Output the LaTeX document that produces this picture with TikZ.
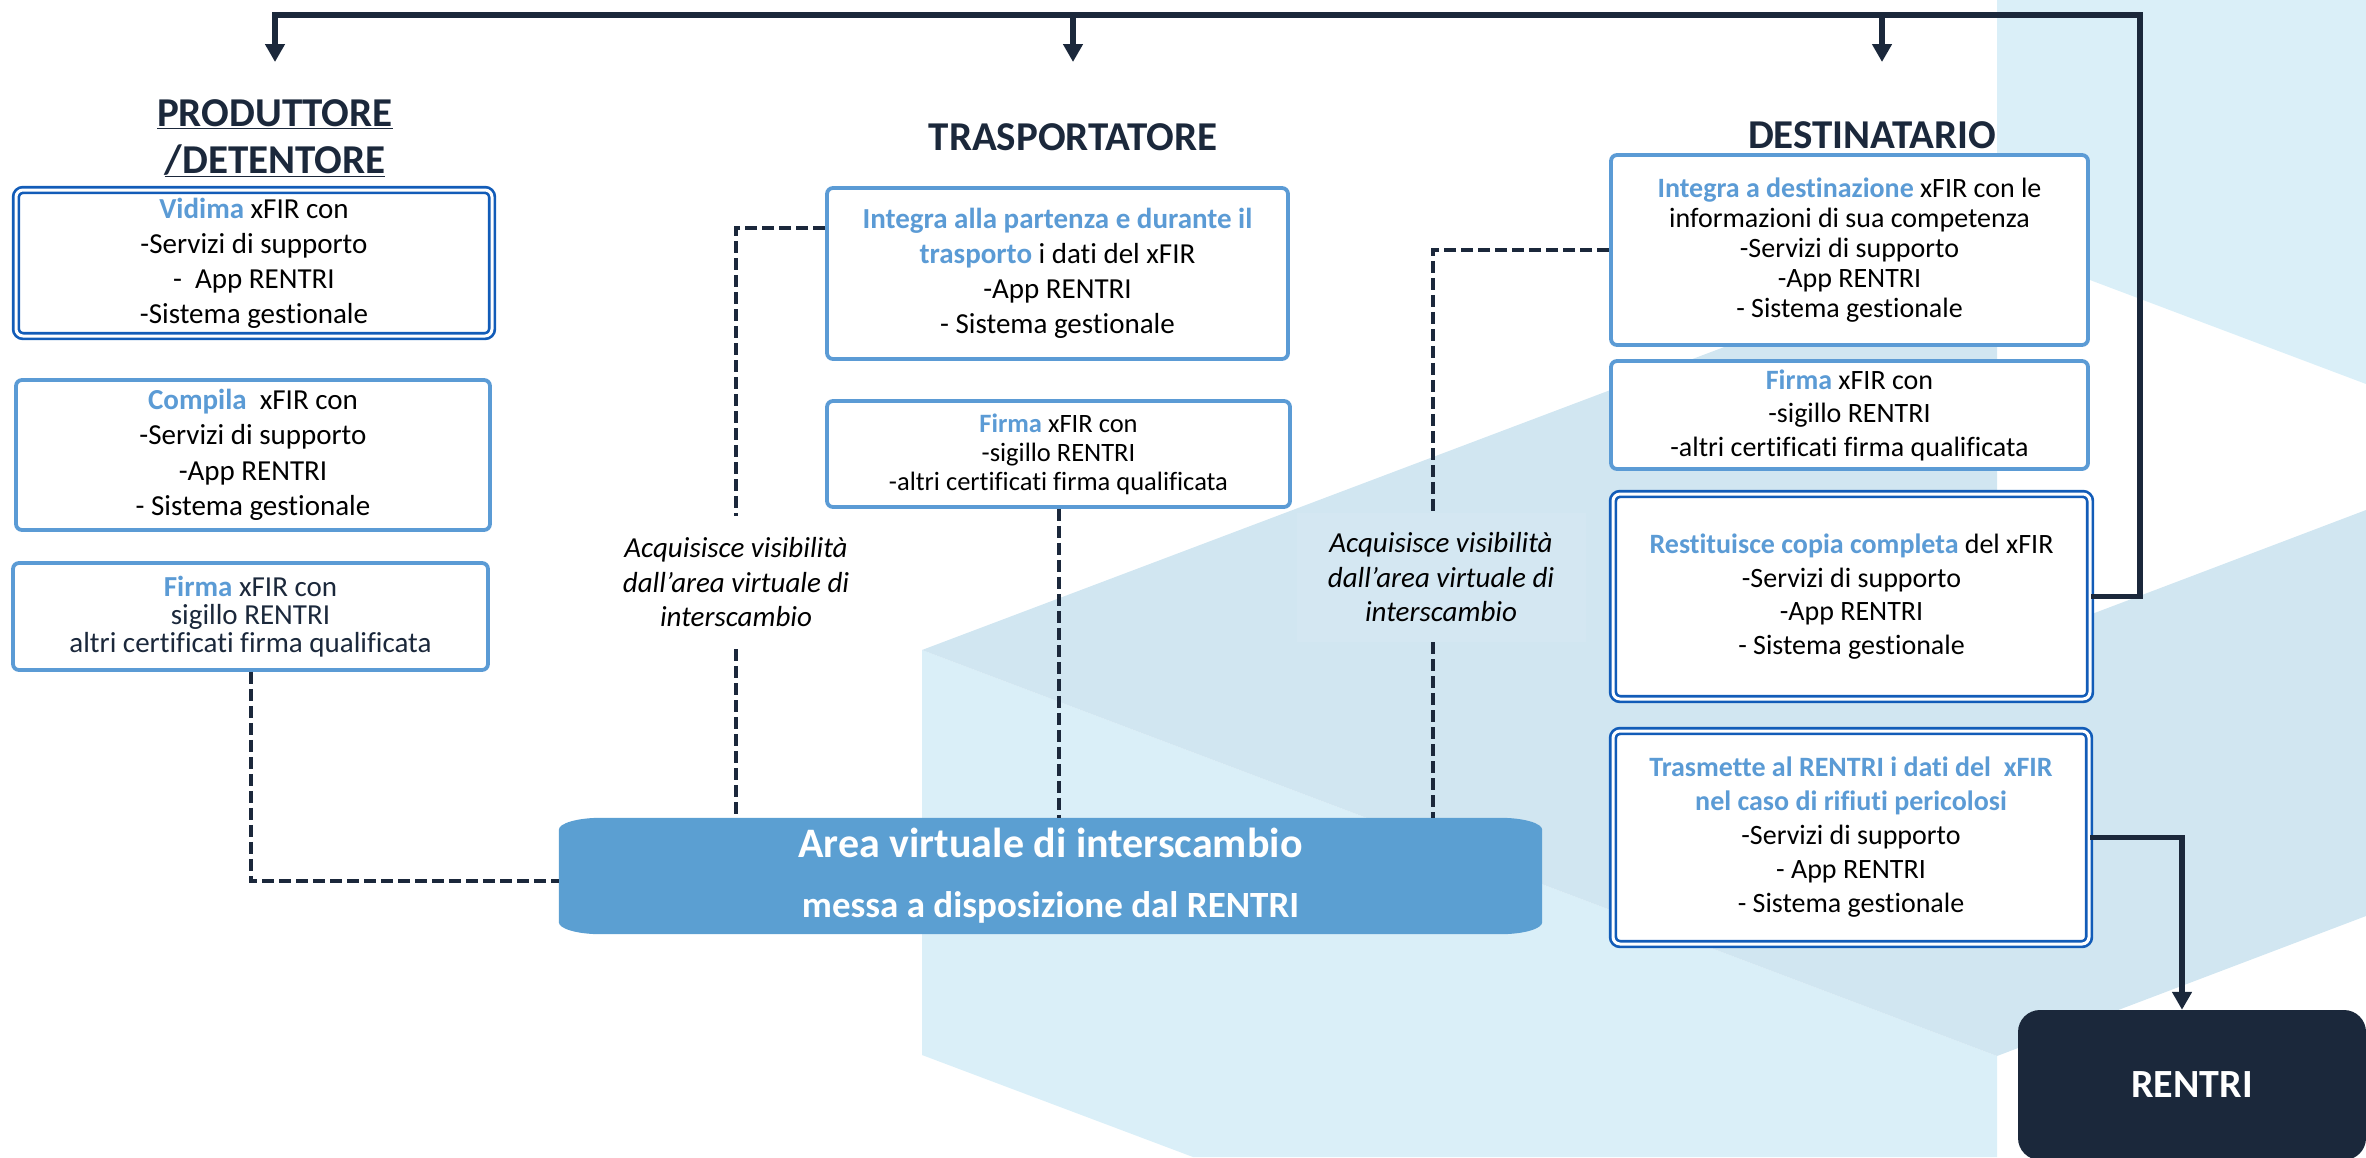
\documentclass[tikz,border=0pt]{standalone}
\usepackage{fontspec}
\setmainfont{Carlito}[Ligatures={TeX,NoCommon}]
\usetikzlibrary{arrows.meta,calc}
\definecolor{navy}{RGB}{27,40,59}
\definecolor{lb}{RGB}{91,155,213}
\definecolor{db}{RGB}{18,92,184}
\definecolor{areab}{RGB}{91,159,210}
\definecolor{bgA}{RGB}{218,239,248}
\definecolor{bgB}{RGB}{209,230,241}
\newcommand{\bluew}[1]{\textcolor{lb}{\textbf{#1}}}
\newcommand{\setfs}[2]{\fontsize{#1}{#2}\selectfont}
\pgfdeclarelayer{deco}
\pgfdeclarelayer{bgl}
\pgfsetlayers{deco,bgl,main}
\tikzset{
  bx/.style={draw=lb, line width=3.8pt, rounded corners=6pt, fill=white, inner sep=0pt, align=center, text=black},
  dbx/.style={draw=db, double=white, double distance=3pt, line width=2.7pt, rounded corners=7pt, fill=white, inner sep=0pt, align=center, text=black},
  ttl/.style={text=navy, font=\setfs{41}{47}\bfseries, inner sep=0pt},
  conn/.style={draw=navy, line width=5.5pt},
  arrowend/.style={-{Triangle[length=18pt,width=19pt]}},
  dsh/.style={draw=navy, line width=4pt, dash pattern=on 12pt off 5pt},
  lab/.style={font=\setfs{29}{34.5}\itshape, align=center, inner sep=0pt, minimum width=289pt, fill=white, fill opacity=0.08, text opacity=1, text=black},
}
\begin{document}
\begin{tikzpicture}[x=1pt,y=-1pt]
\useasboundingbox (0,0) rectangle (2366,1157);

% background decoration
\begin{pgfonlayer}{deco}
\fill[bgA] (922,650) -- (1997,1056) -- (1997,1157) -- (1193,1157) -- (922,1055) -- cycle;
\fill[bgB] (922,650) -- (1997,244) -- (1997,1056) -- cycle;
\fill[bgA] (1997,0) -- (2366,0) -- (2366,384) -- (1997,245) -- cycle;
\fill[bgB] (1997,650) -- (2366,510) -- (2366,916) -- (1997,1056) -- cycle;
\end{pgfonlayer}

% titles
\node[ttl, align=center] (Pt) at (275,138) {\underline{PRODUTTORE}\\\underline{/DETENTORE}};
\node[ttl, anchor=base] (Tt) at (1073,150) {TRASPORTATORE};
\node[ttl, anchor=base] (Dt) at (1872,148) {DESTINATARIO};

% produttore column
\node[dbx, minimum width=476pt, minimum height=146pt, font=\setfs{29}{35}] (Vid) at (254,263)
  {\bluew{Vidima} xFIR con\\-Servizi di supporto\\-\ \ App RENTRI\\-Sistema gestionale};
\node[bx, minimum width=474pt, minimum height=150pt, font=\setfs{29}{35.5}] (Comp) at (253,455)
  {\bluew{Compila}\ \ xFIR con\\-Servizi di supporto\\-App RENTRI\\- Sistema gestionale};
\node[bx, minimum width=475pt, minimum height=107pt, font=\setfs{29}{28}, text=navy] (FirmaP) at (250.5,616.5)
  {\bluew{Firma} xFIR con\\sigillo RENTRI\\altri certificati firma qualificata};

% trasportatore column
\node[bx, minimum width=461pt, minimum height=171pt, font=\setfs{29}{35}] (IntegraT) at (1057.5,273.5)
  {\bluew{Integra alla partenza e durante il}\\\bluew{trasporto} i dati del xFIR\\-App RENTRI\\- Sistema gestionale};
\node[bx, minimum width=463pt, minimum height=106pt, font=\setfs{26.5}{29}] (FirmaT) at (1058.5,454)
  {\bluew{Firma} xFIR con\\-sigillo RENTRI\\-altri certificati firma qualificata};

% destinatario column
\node[bx, minimum width=477pt, minimum height=190pt, font=\setfs{28}{30}] (IntegraD) at (1849.5,250)
  {\bluew{Integra a destinazione} xFIR con le\\informazioni di sua competenza\\-Servizi di supporto\\-App RENTRI\\- Sistema gestionale};
\node[bx, minimum width=477pt, minimum height=108pt, font=\setfs{28}{33.5}] (FirmaD) at (1849.5,415)
  {\bluew{Firma} xFIR con\\-sigillo RENTRI\\-altri certificati firma qualificata};
\node[dbx, minimum width=477pt, minimum height=205pt, font=\setfs{28}{33.5}] (Restit) at (1851.5,596.5)
  {\bluew{Restituisce copia completa} del xFIR\\-Servizi di supporto\\-App RENTRI\\- Sistema gestionale};
\node[dbx, minimum width=476pt, minimum height=213pt, font=\setfs{28}{34}] (Trasm) at (1851,837.5)
  {\bluew{Trasmette al RENTRI i dati del\ \ xFIR}\\\bluew{nel caso di rifiuti pericolosi}\\-Servizi di supporto\\- App RENTRI\\- Sistema gestionale};

% area virtuale
\node[inner sep=0pt, minimum width=983pt, minimum height=116pt, text=white, align=center, font=\setfs{42}{60}\bfseries] (Area) at (1050.5,876)
  {Area virtuale di interscambio\\\setfs{37}{44}messa a disposizione dal RENTRI};
\begin{pgfonlayer}{bgl}
\fill[areab] ([xshift=42pt]Area.north west) -- ([xshift=-42pt]Area.north east)
  arc[start angle=90,end angle=0,x radius=42pt,y radius=12pt]
  -- ([yshift=12pt]Area.south east)
  arc[start angle=0,end angle=-90,x radius=42pt,y radius=12pt]
  -- ([xshift=42pt]Area.south west)
  arc[start angle=-90,end angle=-180,x radius=42pt,y radius=12pt]
  -- ([yshift=-12pt]Area.north west)
  arc[start angle=180,end angle=90,x radius=42pt,y radius=12pt] -- cycle;
\end{pgfonlayer}

% labels
\node[lab, minimum height=133pt] (labL) at (736,582.5) {Acquisisce visibilità\\dall’area virtuale di\\interscambio};
\node[lab, minimum height=129pt] (labR) at (1441,577.5) {Acquisisce visibilità\\dall’area virtuale di\\interscambio};

% RENTRI
\node[fill=navy, rounded corners=22pt, minimum width=348pt, minimum height=150pt, inner sep=0pt, text=white, font=\setfs{40}{48}\bfseries] (RENTRI) at (2192,1085) {RENTRI};

% dashed connectors
\draw[dsh] (FirmaP.south) |- ([yshift=-5pt]Area.west);
\draw[dsh] ($(IntegraT.north west)+(0,42)$) -| (labL.north);
\draw[dsh] (labL.south) -- (labL.south |- Area.north);
\draw[dsh] (FirmaT.south) -- (FirmaT.south |- Area.north);
\draw[dsh] (IntegraD.west) -| ([xshift=-8pt]labR.north);
\draw[dsh] ([xshift=-8pt]labR.south) -- ([xshift=-8pt]labR.south |- Area.north);

% top distribution connector
\coordinate (tr) at (2140,15);
\coordinate (aP) at (275,62);
\coordinate (aT) at (1073,62);
\coordinate (aD) at (1882,62);
\draw[conn, arrowend] (Restit.east) -| (tr) -| (aP);
\draw[conn, arrowend] (aT |- tr) -- (aT);
\draw[conn, arrowend] (aD |- tr) -- (aD);

% to RENTRI
\draw[conn, arrowend] (Trasm.east) -| ([xshift=-10pt]RENTRI.north);
\end{tikzpicture}
\end{document}
